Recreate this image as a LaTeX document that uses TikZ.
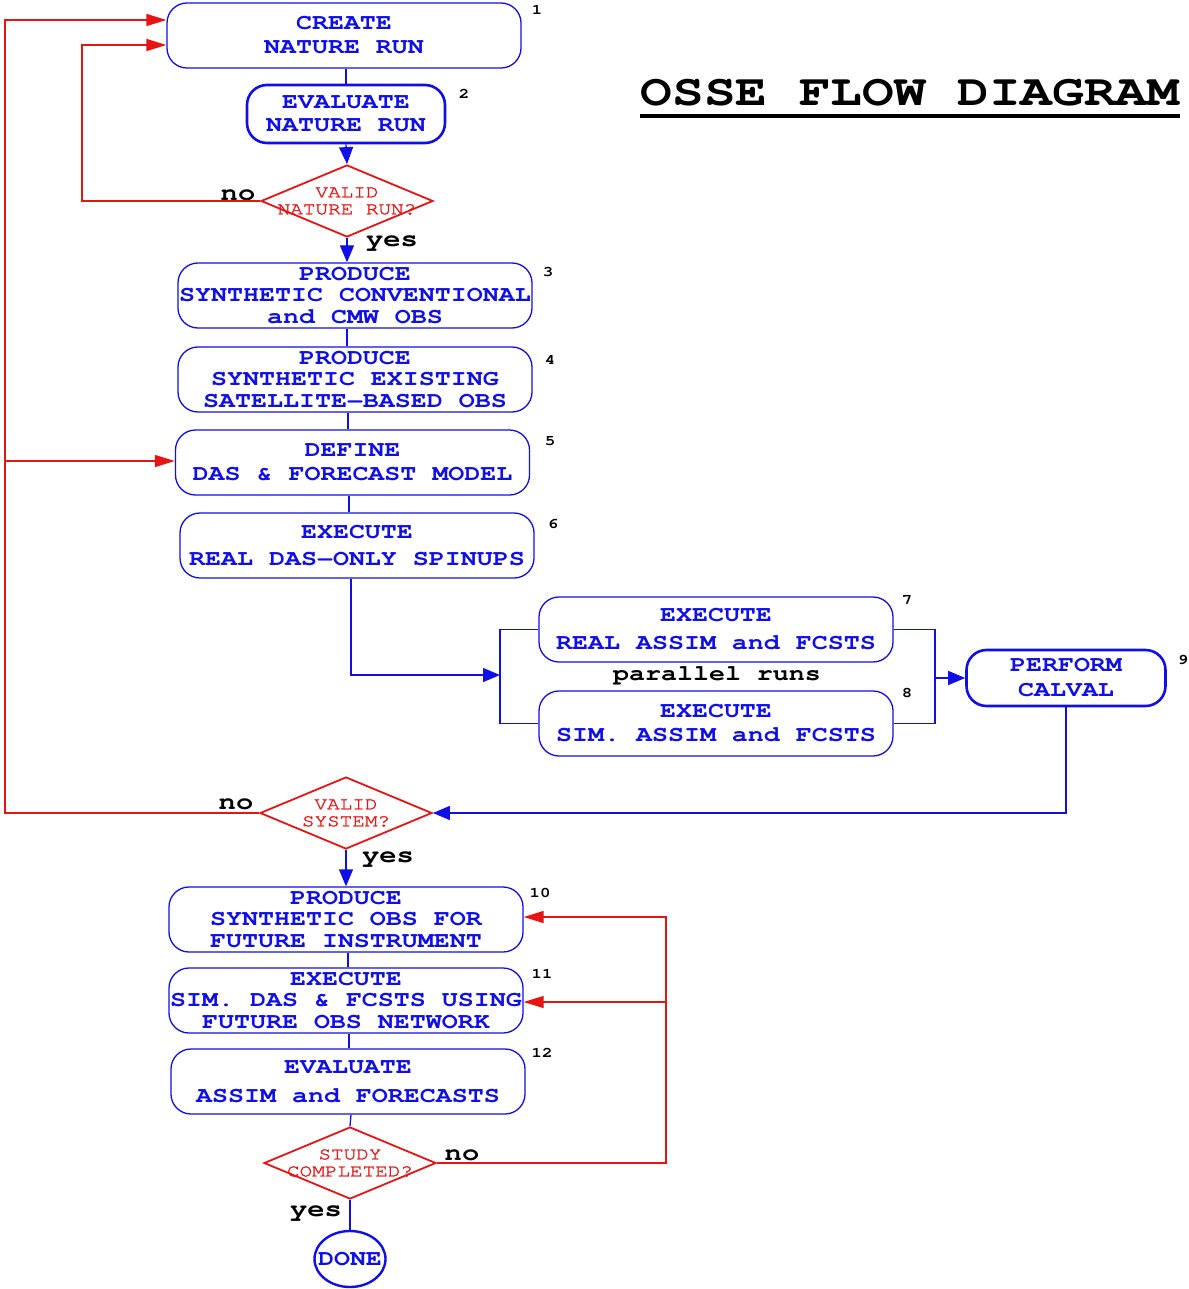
\documentclass[tikz,border=0pt]{standalone}
\usepackage{fontspec}
\setmainfont{Liberation Mono}
\newfontfamily\flowfont[FakeStretch=1.2]{texgyrecursor-bold.otf}
\newfontfamily\decfont[FakeStretch=1.2,FakeBold=1.6]{texgyrecursor-regular.otf}
\usetikzlibrary{arrows.meta,shapes.geometric}
\definecolor{flowblue}{RGB}{15,15,230}
\definecolor{flowred}{RGB}{232,20,20}

\begin{document}
\begin{tikzpicture}[x=1pt,y=-1pt,
  stepbox/.style={draw=flowblue,line width=1.3pt,rounded corners=20pt,
    minimum width=354pt,minimum height=65pt,inner sep=1pt,align=center,
    text=flowblue,font=\flowfont\fontsize{22.2}{21.5}\selectfont},
  heavybox/.style={stepbox,line width=2.6pt},
  decision/.style={diamond,draw=flowred,line width=1.8pt,
    minimum width=172pt,minimum height=72pt,inner sep=0pt},
  dectext/.style={align=center,text=flowred,inner sep=0pt,
    font=\decfont\fontsize{17.5}{17}\selectfont},
  answer/.style={font=\flowfont\fontsize{24}{24}\selectfont},
  stepnum/.style={font=\flowfont\fontsize{14.5}{14.5}\selectfont},
  flowline/.style={draw=flowblue,line width=1.3pt},
  flowarrow/.style={flowline,-{Triangle[length=17pt,width=14pt]}},
  backline/.style={draw=flowred,line width=1.3pt},
  backarrow/.style={backline,-{Triangle[length=20pt,width=12pt]}}]
\useasboundingbox (0,0) rectangle (1188,1289);

% title
\node[font=\flowfont\fontsize{44}{44}\selectfont] (title) at (910,93) {OSSE FLOW DIAGRAM};
\draw[line width=3.2pt] (640,116) -- (1180,116);

% nature run
\node[stepbox] (create) at (344,35.5) {CREATE\\[2.5pt]NATURE RUN};
\node[heavybox,minimum width=198pt,minimum height=58pt] (evalnr) at (346,114) {EVALUATE\\[1.5pt]NATURE RUN};
\node[decision,label={[dectext]center:{VALID\\NATURE RUN?}}] (validnr) at (347,201) {};
\node[answer] (nonr) at (238,195) {no};
\node[answer] (yesnr) at (392,244) {yes};

% synthetic obs and DAS
\node[stepbox] (conv) at (355,295.5) {PRODUCE\\SYNTHETIC CONVENTIONAL\\and CMW OBS};
\node[stepbox] (sat) at (355,379.5) {PRODUCE\\ SYNTHETIC EXISTING\\SATELLITE−BASED OBS};
\node[stepbox] (das) at (352.5,462.5) {DEFINE\\[2.5pt]DAS \& FORECAST MODEL};
\node[stepbox] (spinup) at (357,545.5) {EXECUTE\\[5.5pt]REAL DAS−ONLY SPINUPS};

% parallel runs
\node[stepbox] (realrun) at (716,629.5) {EXECUTE\\[6.5pt]REAL ASSIM and FCSTS};
\node[stepbox] (simrun) at (716,723.5) {EXECUTE\\[2.5pt]SIM. ASSIM and FCSTS};
\node[answer,font=\flowfont\fontsize{22.2}{22}\selectfont] (parallel) at (717,676) {parallel runs};
\node[heavybox,minimum width=199pt,minimum height=56pt] (calval) at (1066,678) {PERFORM\\[3.5pt]CALVAL};
\node[decision,label={[dectext]center:{VALID\\SYSTEM?}}] (validsys) at (346,813) {};
\node[answer] (nosys) at (236,804) {no};
\node[answer] (yessys) at (388,860) {yes};

% future instrument
\node[stepbox] (future) at (346,919.5) {PRODUCE\\SYNTHETIC OBS FOR\\FUTURE INSTRUMENT};
\node[stepbox] (simdas) at (346,1000.5) {EXECUTE\\SIM. DAS \& FCSTS USING\\FUTURE OBS NETWORK};
\node[stepbox] (evalfc) at (348,1081.5) {EVALUATE\\[7.5pt]ASSIM and FORECASTS};
\node[decision,label={[dectext]center:{STUDY\\COMPLETED?}}] (study) at (350,1163) {};
\node[answer] (nostudy) at (462,1155) {no};
\node[answer] (yesstudy) at (316,1214) {yes};
\node[ellipse,draw=flowblue,line width=2.4pt,minimum width=71pt,minimum height=56pt,inner sep=0pt,
  label={[text=flowblue,font=\flowfont\fontsize{22.2}{22}\selectfont]center:DONE}] (done) at (350,1259) {};

% step numbers
\node[stepnum] (n1) at (537,10) {1};
\node[stepnum] (n2) at (464,94) {2};
\node[stepnum] (n3) at (548,272) {3};
\node[stepnum] (n4) at (550,360) {4};
\node[stepnum] (n5) at (550,441) {5};
\node[stepnum] (n6) at (553,524) {6};
\node[stepnum] (n7) at (907,600) {7};
\node[stepnum] (n8) at (907,693) {8};
\node[stepnum] (n9) at (1183,660) {9};
\node[stepnum] (n10) at (540,893) {10};
\node[stepnum] (n11) at (542,974) {11};
\node[stepnum] (n12) at (542,1053) {12};

% forward flow
\draw[flowline] (evalnr.north |- create.south) -- (evalnr.north);
\draw[flowarrow] (evalnr.south) -- (validnr.north);
\draw[flowarrow] (validnr.south) -- (validnr.south |- conv.north);
\draw[flowline] (347,0 |- conv.south) -- (347,0 |- sat.north);
\draw[flowline] (348,0 |- sat.south) -- (348,0 |- das.north);
\draw[flowline] (349,0 |- das.south) -- (349,0 |- spinup.north);
\draw[flowarrow] (351,0 |- spinup.south) |- (500,675);
\draw[flowline] (realrun.west) -| (500,0 |- simrun.west) -- (simrun.west);
\draw[flowline] (realrun.east) -| (935,0 |- simrun.east) -- (simrun.east);
\draw[flowarrow] (935,678) -- (calval.west);
\draw[flowarrow] (calval.south) |- (validsys.east);
\draw[flowarrow] (validsys.south) -- (validsys.south |- future.north);
\draw[flowline] (348,0 |- future.south) -- (348,0 |- simdas.north);
\draw[flowline] (349,0 |- simdas.south) -- (349,0 |- evalfc.north);
\draw[flowline] (351,0 |- evalfc.south) -- (study.north);
\draw[flowline] (study.south) -- (done.north);

% loops back
\draw[backarrow] (validnr.west) -| (82,45) -- (create.west |- 0,45);
\draw[backarrow] (validsys.west) -| (5,20) -- (create.west |- 0,20);
\draw[backarrow] (5,461) -- (das.west |- 0,461);
\draw[backarrow] (study.east) -| (666,917) -- (future.east |- 0,917);
\draw[backarrow] (666,1002) -- (simdas.east |- 0,1002);
\end{tikzpicture}
\end{document}
